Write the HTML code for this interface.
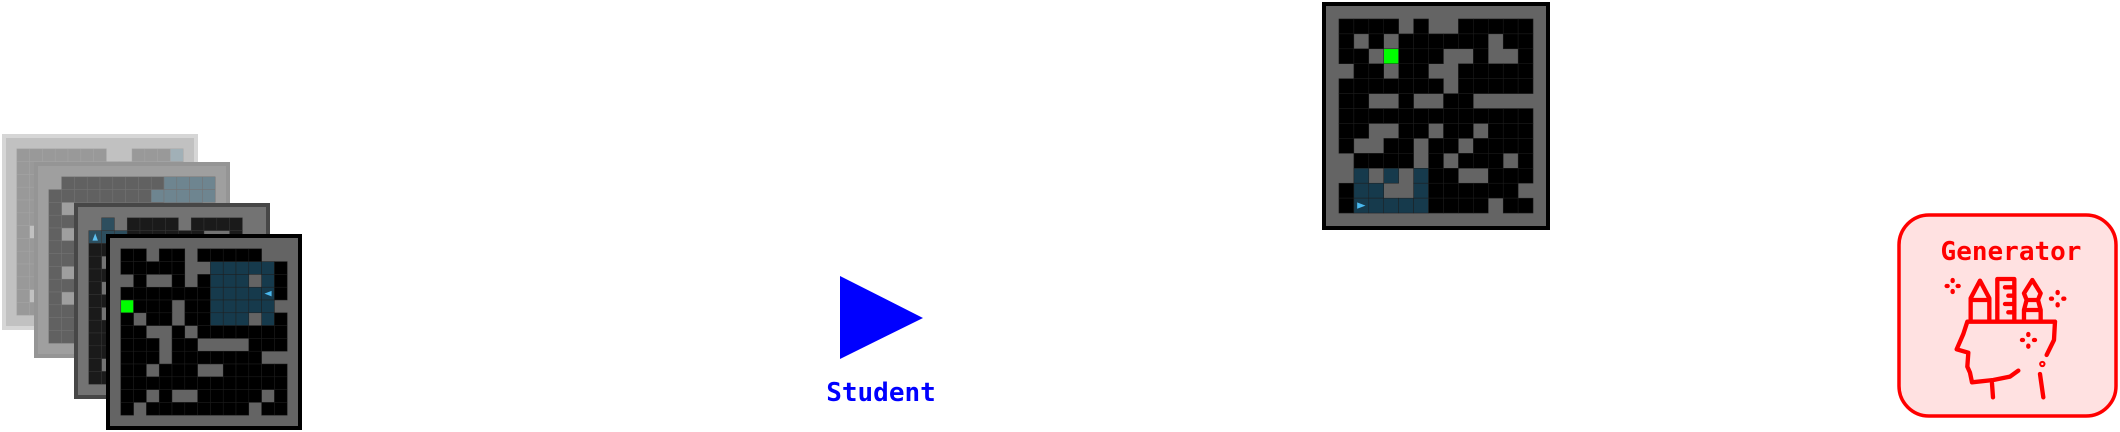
<!DOCTYPE html>
<html><head><meta charset="utf-8"><style>
html,body{margin:0;padding:0;background:#fff;width:2120px;height:432px;overflow:hidden}
svg{display:block}
</style></head><body>
<svg id="root" width="2120" height="432" viewBox="0 0 2120 432" xmlns="http://www.w3.org/2000/svg">
<g id="mazes"></g>
<g>
<polygon points="840,276 923,318 840,359" fill="#0000ff"/>
<text x="881" y="401" text-anchor="middle" font-family="'DejaVu Sans Mono','Liberation Mono',monospace" font-weight="bold" font-size="26" fill="#0000ff">Student</text>
</g>
<g>
<rect x="1899" y="215" width="217" height="201" rx="30" fill="#ffe1e1" stroke="#ff0000" stroke-width="3.5"/>
<text x="2011" y="260" text-anchor="middle" font-family="'DejaVu Sans Mono','Liberation Mono',monospace" font-weight="bold" font-size="26" fill="#ff0000">Generator</text>
<g transform="translate(1880,200) scale(0.3333)" fill="none" stroke="#ff0000" stroke-width="13" stroke-linecap="round" stroke-linejoin="round">
<path d="M272 362 V295 L300 242 L328 295 V362 M272 300 H328"/>
<path d="M352 362 V237 H403 V362 M375 262 H403 M385 287 H403 M375 312 H403 M385 337 H403"/>
<path d="M432 362 V330 L440 300 L432 280 L457 240 L482 280 L474 300 L482 330 V362 M440 300 H474 M436 330 H478"/>
<path d="M262 365 H525 M262 365 L250 402 L230 448 L265 458 L262 500 L270 518 L276 547 L340 540 L390 530 L415 512"/>
<path d="M336 550 L339 592"/>
<path d="M525 365 L522 420 L500 465"/>
<path d="M480 522 L490 592"/>
<circle cx="487" cy="492" r="3"/>
<path d="M200 258 h3 M233 258 h3 M218 240 v3 M218 273 v3"/>
<path d="M513 296 h3 M550 296 h3 M533 276 v3 M533 313 v3"/>
<path d="M426 420 h3 M462 420 h3 M445 402 v3 M445 437 v3"/>
</g>
</g>
</svg>
<script>
// maze grids: 0 black, 1 wall gray, 2 goal green, 3 visited blue, 4 agent right, 5 agent left, 6 agent up
var topGrid=["0000101100000","0101000000100","0012000110110","1001001100000","0000000100000","0011011001111","0000000000000","0011001001000","0110010010000","1000010100010","1313130011000","0331130000001","0433330000100"];
var frontGrid=["0010010000011","0000011333330","1011010333130","0000000333350","2000100333331","0100100333130","0011010000000","0001001111000","0001000000011","0010001100000","0000000000000","0010110000010","0100000000100"];
var layer3Grid=["1310000100001","6330000001101","0000100333100","0100100333110","0001000333300","0110000033000","0000110000000","0100000110010","0000100000000","0011000001100","0000000100000","0100001000010","0000100000000"];
var layer2Grid=["1000000003333","0000000033333","0100000003331","0000101000001","0100000010001","0010000000110","0000110000000","0110000100000","0000001000100","0101000000001","0000010000000","0011000000000","0000000010010"];
var layer1Grid=["0000000110003","0000000000050","0000000000001","0000000000000","0010000000000","0000000000000","0100000000000","0000000000000","0000100000000","0000000000000","0001000000000","0100000000000","0000000000000"];
var layers=[
 {grid:layer1Grid,x:2,y:134,s:196,border:"#9a9a9a",fade:0.6,name:"maze-layer-1"},
 {grid:layer2Grid,x:34,y:162,s:196,border:"#555",fade:0.38,name:"maze-layer-2"},
 {grid:layer3Grid,x:74,y:203,s:196,border:"#333",fade:0.1,name:"maze-layer-3"},
 {grid:frontGrid,x:106,y:234,s:196,border:"#000",fade:0,name:"maze-current"},
 {grid:topGrid,x:1322,y:2,s:228,border:"#000",fade:0,name:"maze-generated"}
];
var NS="http://www.w3.org/2000/svg";
var host=document.getElementById('mazes');
var colors={"0":"#000","1":"#646464","2":"#00ff00","3":"#163a4c","4":"#163a4c","5":"#163a4c","6":"#163a4c"};
function mk(t,a){var e=document.createElementNS(NS,t);for(var k in a)e.setAttribute(k,a[k]);return e;}
layers.forEach(function(L){
 var g=mk('g',{});
 
 
 var cell=(L.s-4)/15;
 var bg=mk('rect',{x:L.x+2,y:L.y+2,width:L.s-4,height:L.s-4,fill:"#646464",stroke:L.border,"stroke-width":4});
 
 
 g.appendChild(bg);
 var ox=L.x+2+cell, oy=L.y+2+cell;
 L.grid.forEach(function(row,r){
  for(var c=0;c<row.length;c++){
   var v=row[c];
   if(v==="1")continue;
   var cx=ox+c*cell, cy=oy+r*cell;
   var rc=mk('rect',{x:cx,y:cy,width:cell,height:cell,fill:colors[v],stroke:"#1e1e1e","stroke-width":0.5});
   
   
   g.appendChild(rc);
   if(v==="4"||v==="5"||v==="6"){
    var p,m=cell*0.22;
    if(v==="4")p=[[cx+m,cy+m*1.3],[cx+cell-m,cy+cell/2],[cx+m,cy+cell-m*1.3]];
    else if(v==="5")p=[[cx+cell-m,cy+m*1.3],[cx+m,cy+cell/2],[cx+cell-m,cy+cell-m*1.3]];
    else p=[[cx+m*1.3,cy+cell-m],[cx+cell/2,cy+m],[cx+cell-m*1.3,cy+cell-m]];
    var a=mk('polygon',{points:p.map(function(q){return q.join(',');}).join(' '),fill:"#4ab8ee"});
    
    
    g.appendChild(a);
   }
  }
 });
 if(L.fade>0){
  var f=mk('rect',{x:L.x,y:L.y,width:L.s,height:L.s,fill:"#fff","fill-opacity":L.fade});
  
  
  g.appendChild(f);
 }
 host.appendChild(g);
});
</script>
</body></html>
